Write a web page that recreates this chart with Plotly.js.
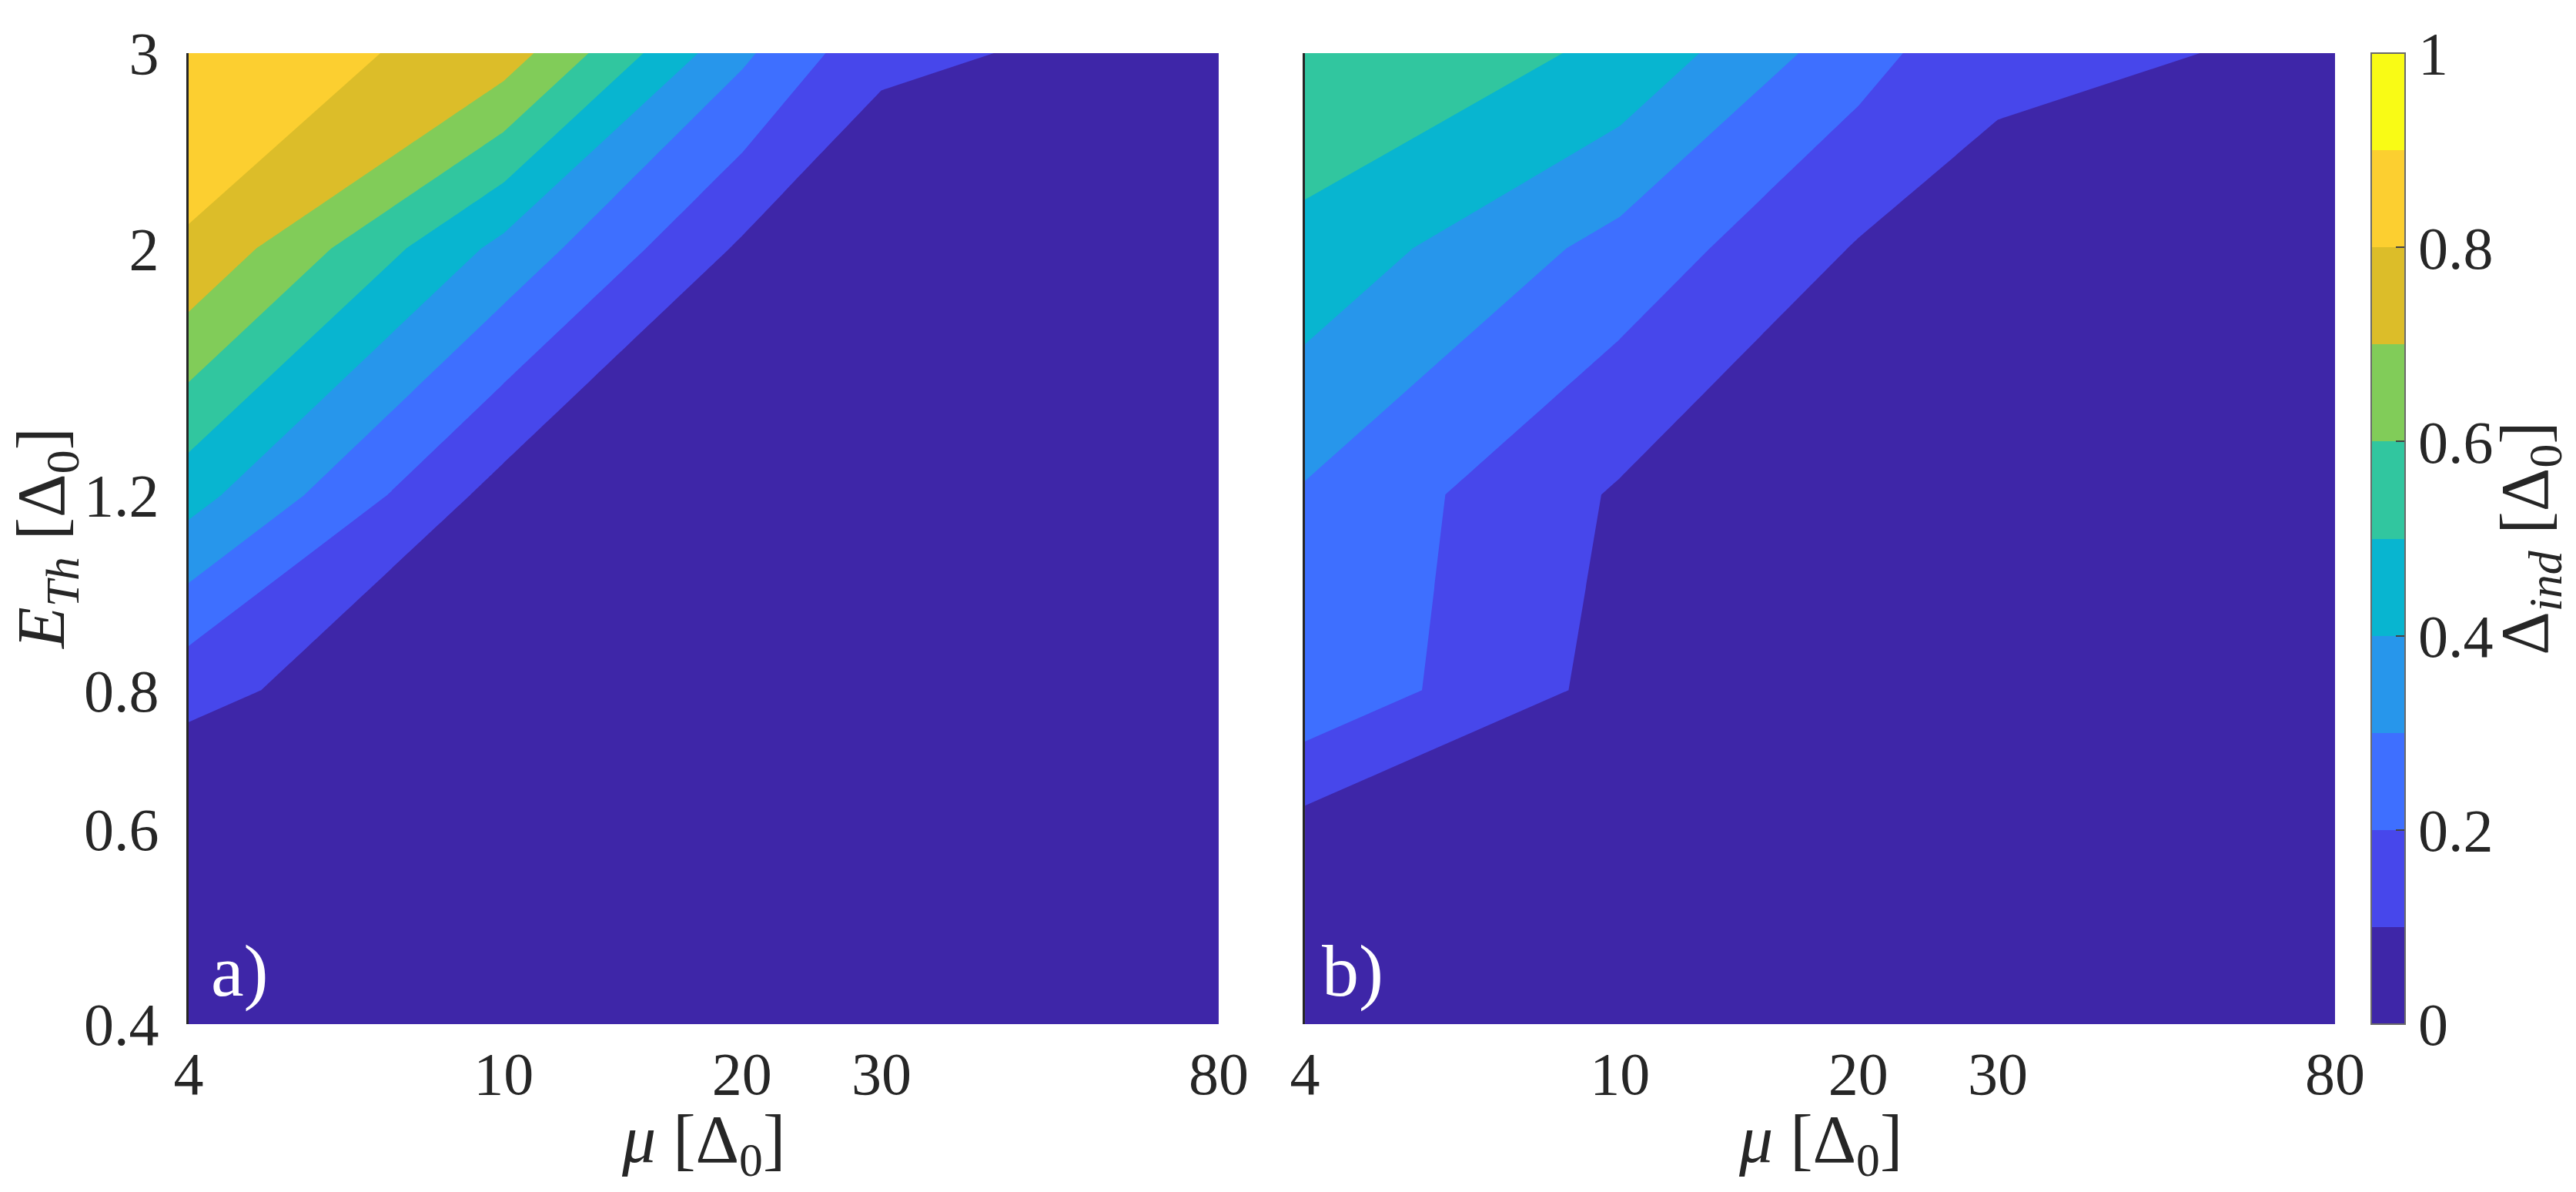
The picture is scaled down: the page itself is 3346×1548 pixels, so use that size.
<!DOCTYPE html>
<html><head><meta charset="utf-8">
<script src="https://cdn.plot.ly/plotly-3.0.1.min.js"></script>
<style>html,body{margin:0;padding:0;background:#fff;} #chart{width:3346px;height:1548px;}</style>
</head><body><div id="chart"></div>
<script>
// grid of the data
const mu = [4, 10, 20, 30, 80];
const eTh = [0.4, 0.6, 0.8, 1.2, 2, 3];
// induced gap, panel a) rows follow eTh, columns follow mu
const gapA = [
  [0.00, 0.00, 0.00, 0.00, 0.00],
  [0.00, 0.00, 0.00, 0.00, 0.00],
  [0.13, 0.00, 0.00, 0.00, 0.00],
  [0.44, 0.06, 0.01, 0.00, 0.00],
  [0.79, 0.37, 0.085, 0.015, 0.00],
  [0.87, 0.755, 0.32, 0.12, 0.06]
];
// induced gap, panel b)
const gapB = [
  [0.02, 0.01, 0.00, 0.00, 0.00],
  [0.064, 0.03, 0.01, 0.00, 0.00],
  [0.28, 0.065, 0.02, 0.01, 0.00],
  [0.29, 0.088, 0.04, 0.02, 0.01],
  [0.47, 0.265, 0.092, 0.071, 0.03],
  [0.59, 0.48, 0.24, 0.115, 0.09]
];
const muTicks = [4, 10, 20, 30, 80];
const muTickText = ['4', '10', '20', '30', '80'];
const eTicks = [0.4, 0.6, 0.8, 1.2, 2, 3];
const eTickText = ['0.4', '0.6', '0.8', '1.2', '2', '3'];
const cbTicks = [0, 0.2, 0.4, 0.6, 0.8, 1];
const cbTickText = ['0', '0.2', '0.4', '0.6', '0.8', '1'];
const parula10 = ['#3E26A8', '#4747EB', '#3E6FFF', '#2796EB', '#08B5D0',
                  '#31C69F', '#81CC59', '#DCBD29', '#FCCF30', '#F9FB15'];

const colorscale = [];
parula10.forEach((c, k) => { colorscale.push([k / 10, c]); colorscale.push([(k + 1) / 10, c]); });

const FONT = "'Liberation Serif', 'Times New Roman', 'DejaVu Serif', serif";
const INK = '#262626';

function contourTrace(z, xa, ya, showScale) {
  return {
    type: 'contour', x: mu, y: eTh, z: z, xaxis: xa, yaxis: ya,
    autocontour: false,
    contours: {start: 0.1, end: 0.9, size: 0.1, coloring: 'fill', showlines: false},
    line: {width: 0, smoothing: 0},
    zmin: 0, zmax: 1, colorscale: colorscale, showscale: showScale,
    hoverinfo: 'skip',
    colorbar: {
      x: 1.0169, xanchor: 'left', xpad: 0, ypad: 0, y: 0.5, yanchor: 'middle',
      len: 1, lenmode: 'fraction', thickness: 44, thicknessmode: 'pixels',
      outlinewidth: 2, outlinecolor: '#6a6a6a', borderwidth: 0,
      tickmode: 'array', tickvals: cbTicks, ticktext: cbTickText,
      ticks: 'inside', ticklen: 13, tickwidth: 2, tickcolor: '#444',
      tickfont: {family: FONT, size: 78, color: INK}
    }
  };
}

const data = [
  contourTrace(gapA, 'x', 'y', true),
  contourTrace(gapB, 'x2', 'y2', false)
];

const xCommon = {
  type: 'log', range: [Math.log10(4), Math.log10(80)],
  tickmode: 'array', tickvals: muTicks, ticktext: muTickText,
  ticks: '', showline: false, showgrid: false, zeroline: false,
  ticklabelstandoff: 12, fixedrange: true,
  tickfont: {family: FONT, size: 78, color: INK}
};
const yCommon = {
  type: 'log', range: [Math.log10(0.4), Math.log10(3)], domain: [0, 1],
  tickmode: 'array', tickvals: eTicks, ticktext: eTickText,
  ticks: '', showline: true, linecolor: INK, linewidth: 3, mirror: false,
  showgrid: false, zeroline: false, ticklabelstandoff: 20, fixedrange: true,
  tickfont: {family: FONT, size: 78, color: INK}
};

const titleFont = {family: FONT, size: 88, color: INK};
const layout = {
  width: 3346, height: 1548,
  margin: {l: 245, r: 313, t: 69, b: 218, autoexpand: false},
  paper_bgcolor: '#ffffff', plot_bgcolor: '#ffffff',
  font: {family: FONT, size: 78, color: INK},
  showlegend: false,
  xaxis: Object.assign({}, xCommon, {domain: [0, 0.4799], anchor: 'y'}),
  xaxis2: Object.assign({}, xCommon, {domain: [0.5201, 1], anchor: 'y2'}),
  yaxis: Object.assign({}, yCommon, {anchor: 'x'}),
  yaxis2: Object.assign({}, yCommon, {anchor: 'x2', showticklabels: false}),
  annotations: [
    {text: '<i>μ</i> [Δ<sub>0</sub>]', xref: 'x domain', yref: 'paper', x: 0.5, y: -0.123,
     xanchor: 'center', yanchor: 'middle', showarrow: false, font: titleFont},
    {text: '<i>μ</i> [Δ<sub>0</sub>]', xref: 'x2 domain', yref: 'paper', x: 0.5, y: -0.123,
     xanchor: 'center', yanchor: 'middle', showarrow: false, font: titleFont},
    {text: '<i>E</i><sub><i>Th</i></sub> [Δ<sub>0</sub>]', xref: 'paper', yref: 'paper',
     x: -0.0665, y: 0.5, xanchor: 'center', yanchor: 'middle', textangle: -90,
     showarrow: false, font: titleFont},
    {text: 'Δ<sub><i>ind</i></sub> [Δ<sub>0</sub>]', xref: 'paper', yref: 'paper',
     x: 1.0905, y: 0.5, xanchor: 'center', yanchor: 'middle', textangle: -90,
     showarrow: false, font: titleFont},
    {text: 'a)', xref: 'x domain', yref: 'y domain', x: 0.02, y: 0.0555,
     xanchor: 'left', yanchor: 'middle', showarrow: false,
     font: {family: FONT, size: 96, color: '#ffffff'}},
    {text: 'b)', xref: 'x2 domain', yref: 'y2 domain', x: 0.015, y: 0.0555,
     xanchor: 'left', yanchor: 'middle', showarrow: false,
     font: {family: FONT, size: 96, color: '#ffffff'}}
  ]
};

Plotly.newPlot('chart', data, layout, {staticPlot: true, displayModeBar: false});
</script>
</body></html>
